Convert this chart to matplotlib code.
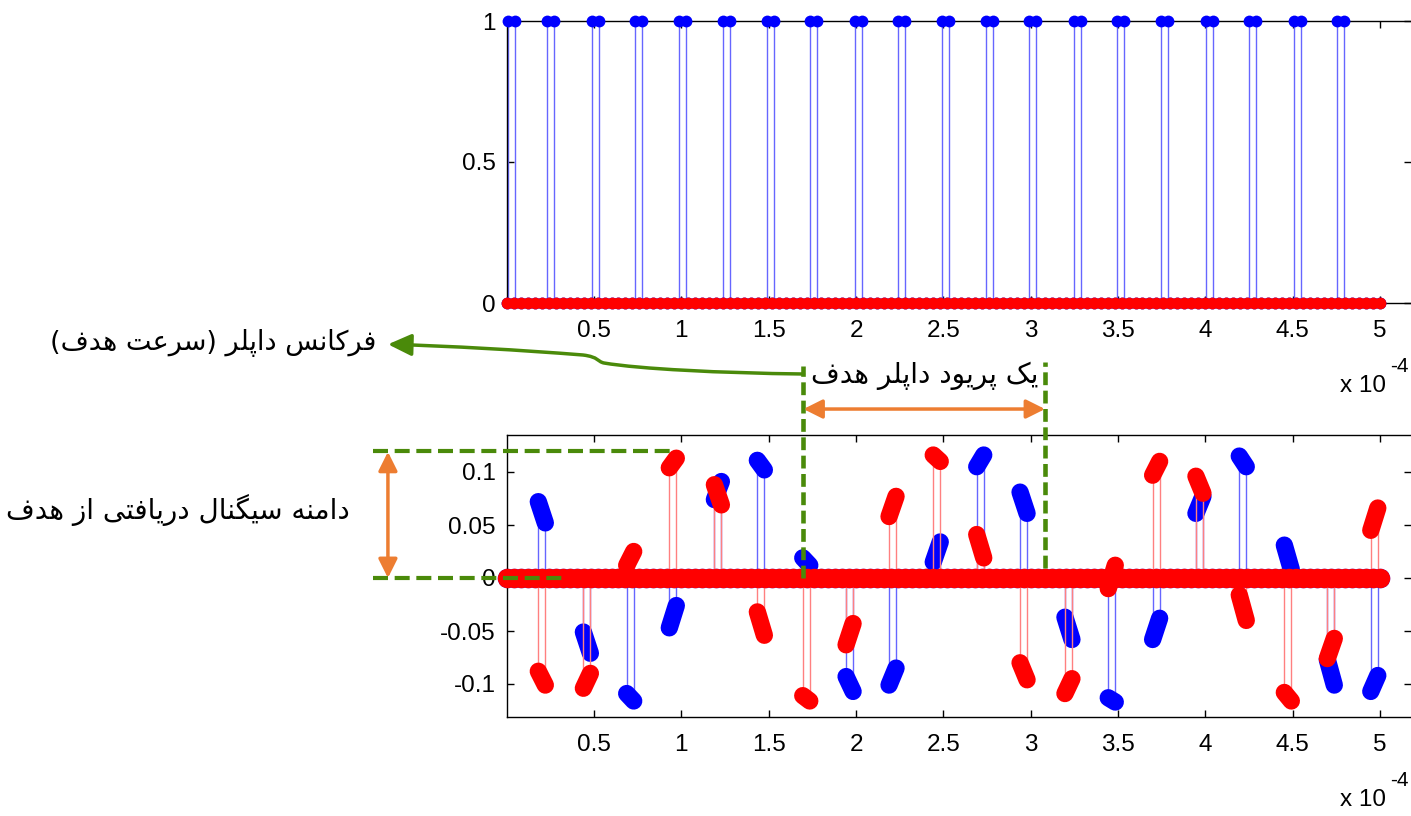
import numpy as np
import matplotlib
matplotlib.use("Agg")
import matplotlib.pyplot as plt
from matplotlib.patches import FancyArrowPatch, ArrowStyle
from matplotlib.path import Path
from matplotlib.transforms import Affine2D

# ---------------- data (time in units of 1e-4 s) ----------------
x_ticks = [0.5, 1, 1.5, 2, 2.5, 3, 3.5, 4, 4.5, 5]
x_tick_labels = ["0.5", "1", "1.5", "2", "2.5", "3", "3.5", "4", "4.5", "5"]
top_y_ticks = [0, 0.5, 1]
top_y_labels = ["0", "0.5", "1"]
bot_y_ticks = [-0.1, -0.05, 0, 0.05, 0.1]
bot_y_labels = ["-0.1", "-0.05", "0", "0.05", "0.1"]

sample_step = 0.04          # spacing of the samples (x 1e-4 s)
t_end = 5.0

# transmitted pulse train (top): start time of each pulse, amplitude 1
tx_pulse_t = [0.005, 0.231, 0.490, 0.736, 0.986, 1.240, 1.489, 1.736, 1.994, 2.240,
              2.490, 2.742, 2.990, 3.248, 3.496, 3.744, 4.002, 4.250, 4.507, 4.752]
tx_amp = 1.0

# received echo (bottom): start time of each pulse, first / second sample
rx_pulse_t = [0.181, 0.439, 0.687, 0.931, 1.189, 1.435, 1.695, 1.943, 2.189, 2.442,
              2.691, 2.939, 3.196, 3.444, 3.698, 3.946, 4.194, 4.452, 4.698, 4.947]
rx_blue_1 = [0.072, -0.051, -0.109, -0.047, 0.074, 0.111, 0.019, -0.093, -0.101, 0.015,
             0.105, 0.081, -0.037, -0.113, -0.058, 0.061, 0.115, 0.031, -0.077, -0.107]
rx_blue_2 = [0.052, -0.071, -0.116, -0.026, 0.091, 0.102, 0.012, -0.107, -0.085, 0.034,
             0.116, 0.061, -0.058, -0.117, -0.038, 0.077, 0.105, 0.008, -0.101, -0.092]
rx_red_1 = [-0.088, -0.104, 0.012, 0.104, 0.088, -0.032, -0.111, -0.063, 0.058, 0.116,
            0.041, -0.080, -0.109, -0.010, 0.097, 0.096, -0.016, -0.108, -0.076, 0.045]
rx_red_2 = [-0.101, -0.090, 0.025, 0.113, 0.069, -0.054, -0.116, -0.043, 0.077, 0.110,
            0.019, -0.096, -0.095, 0.012, 0.110, 0.080, -0.040, -0.116, -0.057, 0.066]

# ---------------- Persian shaping (presentation forms, RTL) ----------------
_FORMS = {
    'ا': ('\uFE8D', '\uFE8E', None, None),
    'د': ('\uFEA9', '\uFEAA', None, None),
    'ر': ('\uFEAD', '\uFEAE', None, None),
    'ز': ('\uFEAF', '\uFEB0', None, None),
    'و': ('\uFEED', '\uFEEE', None, None),
    'ف': ('\uFED1', '\uFED2', '\uFED3', '\uFED4'),
    'ک': ('\uFB8E', '\uFB8F', '\uFB90', '\uFB91'),
    'گ': ('\uFB92', '\uFB93', '\uFB94', '\uFB95'),
    'ن': ('\uFEE5', '\uFEE6', '\uFEE7', '\uFEE8'),
    'س': ('\uFEB1', '\uFEB2', '\uFEB3', '\uFEB4'),
    'پ': ('\uFB56', '\uFB57', '\uFB58', '\uFB59'),
    'ل': ('\uFEDD', '\uFEDE', '\uFEDF', '\uFEE0'),
    'ع': ('\uFEC9', '\uFECA', '\uFECB', '\uFECC'),
    'ت': ('\uFE95', '\uFE96', '\uFE97', '\uFE98'),
    'ه': ('\uFEE9', '\uFEEA', '\uFEEB', '\uFEEC'),
    'م': ('\uFEE1', '\uFEE2', '\uFEE3', '\uFEE4'),
    'ی': ('\uFBFC', '\uFBFD', '\uFBFE', '\uFBFF'),
}


def fa(s):
    out = []
    n = len(s)
    for i, c in enumerate(s):
        if c not in _FORMS:
            out.append(c)
            continue
        f = _FORMS[c]
        prev = s[i - 1] if i > 0 else None
        nxt = s[i + 1] if i < n - 1 else None
        jp = prev in _FORMS and _FORMS[prev][2] is not None
        jn = f[2] is not None and nxt in _FORMS
        if jp and jn:
            g = f[3]
        elif jp:
            g = f[1]
        elif jn:
            g = f[2]
        else:
            g = f[0]
        out.append(g)
    vis = ''.join(reversed(out))
    return vis.translate(str.maketrans('()', ')('))


label_doppler = "فرکانس داپلر (سرعت هدف)"
label_period = "یک پریود داپلر هدف"
label_amp = "دامنه سیگنال دریافتی از هدف"

# ---------------- figure ----------------
plt.rcParams['font.family'] = ['Liberation Sans', 'DejaVu Sans']
W, H = 1411, 816
fig = plt.figure(figsize=(W / 100, H / 100), dpi=100)
pix = Affine2D().scale(1.0 / W, -1.0 / H).translate(0, 1) + fig.transFigure

x0px, pxper = 506.7, 174.67
xmax = (W - x0px) / pxper
left = x0px / W
width = 1.0 - left
ax1 = fig.add_axes([left, 1 - 303 / H, width, (303 - 21) / H])
ax2 = fig.add_axes([left, 1 - 717 / H, width, (717 - 435) / H])

BLUE = '#0000ff'
RED = '#ff0000'
STEM_B = (0.4, 0.4, 1.0)
STEM_R = (1.0, 0.5, 0.5)
GREEN = '#4a8a0a'
ORANGE = '#ed7d31'

t_grid = np.arange(0, t_end + 1e-9, sample_step)
zeros = np.zeros_like(t_grid)

# ----- top: transmitted pulses -----
tx_t = np.array([[t, t + sample_step] for t in tx_pulse_t]).ravel()
tx_v = np.full_like(tx_t, tx_amp)
ax1.vlines(tx_t, 0, tx_v, colors=[STEM_B], lw=1.0, zorder=2)
ax1.plot(t_grid, zeros, 'o', color=BLUE, ms=8.5, mec='none', zorder=3, clip_on=False)
ax1.plot(tx_t, tx_v, 'o', color=BLUE, ms=8.5, mec='none', zorder=3, clip_on=False)
ax1.plot(tx_t, tx_v, '-', color=BLUE, lw=0.0, zorder=3)
ax1.plot(t_grid, zeros, 'o', color=RED, ms=8.5, mec='none', zorder=4, clip_on=False)
ax1.set_ylim(0, 1)

# ----- bottom: received echo -----
def draw_series(ax, t1, v1, v2, color, stemc, z):
    ta = np.array(t1)
    tb = ta + sample_step
    ax.vlines(np.concatenate([ta, tb]), 0, np.concatenate([v1, v2]),
              colors=[stemc], lw=1.0, zorder=z)
    ax.plot(t_grid, zeros, 'o', color=color, ms=14.0, mec='none', zorder=z + 0.1,
            clip_on=False)
    for a, b, p, q in zip(ta, tb, v1, v2):
        ax.plot([a, b], [p, q], '-', color=color, lw=12.5, solid_capstyle='round',
                zorder=z + 0.2)


draw_series(ax2, rx_pulse_t, rx_blue_1, rx_blue_2, BLUE, STEM_B, 2)
draw_series(ax2, rx_pulse_t, rx_red_1, rx_red_2, RED, STEM_R, 3)
ax2.set_ylim(-(717 - 578) / 1060, (578 - 435) / 1060)

for ax, yt, yl in ((ax1, top_y_ticks, top_y_labels), (ax2, bot_y_ticks, bot_y_labels)):
    ax.set_xlim(0, xmax)
    ax.set_xticks(x_ticks)
    ax.set_xticklabels(x_tick_labels)
    ax.set_yticks(yt)
    ax.set_yticklabels(yl)
    ax.tick_params(direction='in', length=5, width=1, top=True, right=True,
                   labelsize=17.5, colors='black')
    ax.tick_params(axis='x', pad=12)
    ax.tick_params(axis='y', pad=8)
    for s in ('left', 'top', 'bottom'):
        ax.spines[s].set_linewidth(1.0)
    ax.spines['right'].set_visible(False)
    ax.set_facecolor('none')

# exponent labels
for yb in (392, 806):
    fig.text(1340 / W, 1 - yb / H, "x 10", fontsize=17.5, ha='left', va='baseline')
    fig.text(1390 / W, 1 - (yb - 20) / H, "-4", fontsize=15, ha='left', va='baseline')

# ----- annotations -----
# vertical green dashed lines (one Doppler period)
t_p0, t_p1 = 1.699, 3.082
ax2.plot([t_p0, t_p0], [0.0, 0.200], ls=(0, (2.8, 1.2)), color=GREEN, lw=3.3,
         clip_on=False, zorder=6)
ax2.plot([t_p1, t_p1], [0.009, 0.204], ls=(0, (2.8, 1.2)), color=GREEN, lw=3.3,
         clip_on=False, zorder=6)
# horizontal green dashed lines (amplitude)
ax2.plot([-0.766, 0.97], [0.1195, 0.1195], ls=(0, (3.6, 1.6)), color=GREEN, lw=3.0,
         clip_on=False, zorder=6)
ax2.plot([-0.766, 0.33], [0.0, 0.0], ls=(0, (3.6, 1.6)), color=GREEN, lw=3.0,
         clip_on=False, zorder=6)

astyle = ArrowStyle('<|-|>', head_length=0.6, head_width=0.3)
ax2.add_patch(FancyArrowPatch((t_p0, 0.1594), (t_p1, 0.1594), arrowstyle=astyle,
                              mutation_scale=19, color=ORANGE, lw=2.5, shrinkA=0,
                              shrinkB=0, clip_on=False, zorder=7))
ax2.add_patch(FancyArrowPatch((-0.680, 0.119), (-0.680, 0.0), arrowstyle=astyle,
                              mutation_scale=19, color=ORANGE, lw=2.5, shrinkA=0,
                              shrinkB=0, clip_on=False, zorder=7))

# green curved arrow to the Doppler label
verts = [(803.5, 374), (720, 373), (640, 369), (604, 363),
         (597, 361.5), (599, 357), (583, 355),
         (520, 350), (450, 346), (388, 344.3)]
codes = [Path.MOVETO] + [Path.CURVE4] * 9
fig.patches.append(FancyArrowPatch(path=Path(verts, codes),
                                   arrowstyle=ArrowStyle('-|>', head_length=0.75, head_width=0.35),
                                   mutation_scale=19, color=GREEN, lw=2.5,
                                   transform=pix, figure=fig))

# Persian labels
fig.text(376 / W, 1 - 343 / H, fa(label_doppler), fontsize=19.5, ha='right', va='center',
         family='DejaVu Sans')
fig.text(1038 / W, 1 - 376 / H, fa(label_period), fontsize=20, ha='right', va='center',
         family='DejaVu Sans')
fig.text(350 / W, 1 - 510 / H, fa(label_amp), fontsize=20, ha='right', va='center',
         family='DejaVu Sans')

fig.savefig("out.png", dpi=100)
